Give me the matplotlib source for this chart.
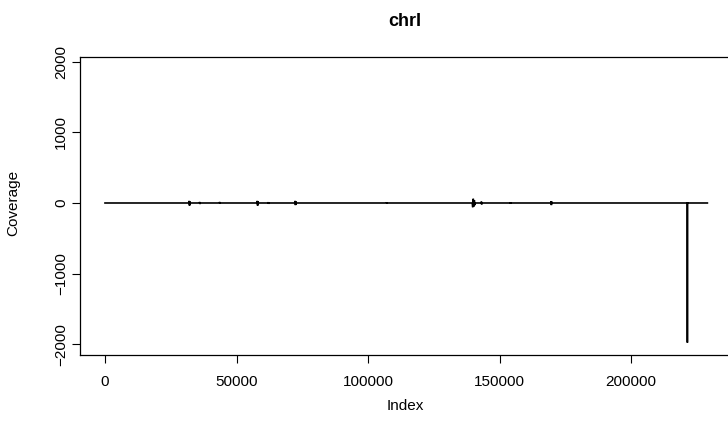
import matplotlib
matplotlib.use("Agg")
from matplotlib import pyplot as plt

# coverage trace along chrI (index, coverage)
index = [0,
         31900, 32000, 32100, 32200, 32300, 32400,
         35900, 36000, 36100, 36200,
         43500, 43600, 43700, 43800,
         57800, 57900, 58000, 58100, 58200, 58300,
         62000, 62100, 62200, 62300,
         72200, 72300, 72400, 72500, 72600, 72700,
         107000, 107100, 107200, 107300,
         139600, 139800, 140000, 140200, 140400, 140600, 140800,
         143000, 143100, 143200, 143300,
         154000, 154100, 154200, 154300,
         169500, 169600, 169700, 169800, 169900,
         221400, 221400, 221400,
         229000]
coverage = [0,
            0, 30, -35, 25, -30, 0,
            0, 15, -15, 0,
            0, 15, -10, 0,
            0, 30, -35, 25, -30, 0,
            0, 12, -12, 0,
            0, 30, -30, 25, -20, 0,
            0, 10, -10, 0,
            0, -60, 60, -50, 40, -30, 0,
            0, 20, -20, 0,
            0, 10, -10, 0,
            0, 25, -30, 20, 0,
            0, -1975, 0,
            0]

x_ticks = [0, 50000, 100000, 150000, 200000]
y_ticks = [-2000, -1000, 0, 1000, 2000]

plt.rcParams["font.family"] = ["Liberation Sans", "DejaVu Sans"]

W, H = 728, 430
fig = plt.figure(figsize=(W / 100, H / 100), dpi=100)
ax = fig.add_axes([80 / W, (H - 355) / H, (730 - 80) / W, (355 - 57) / H])

ax.plot(index, coverage, color="black", linewidth=1.2, solid_joinstyle="miter")

ax.set_xlim(-9500, 237600)
ax.set_ylim(-2150, 2065)
ax.set_xticks(x_ticks)
ax.set_xticklabels([str(v) for v in x_ticks])
ax.set_yticks(y_ticks)
ax.set_yticklabels([str(v).replace("-", "\u2212") for v in y_ticks])
ax.tick_params(axis="both", direction="out", length=5.5, width=0.8,
               labelsize=11, color="black")
ax.tick_params(axis="x", pad=9)
ax.tick_params(axis="y", pad=3, labelrotation=90)
for lab in ax.get_yticklabels():
    lab.set_va("center")
for sp in ax.spines.values():
    sp.set_linewidth(0.9)

fig.text(405 / W, 1 - 22 / H, "chrI", ha="center", va="center",
         fontsize=13, fontweight="bold")
fig.text(405 / W, 1 - 406 / H, "Index", ha="center", va="center", fontsize=11)
fig.text(13 / W, 1 - 203 / H, "Coverage", ha="center", va="center",
         rotation=90, fontsize=11)

fig.savefig("out.png", dpi=100)
